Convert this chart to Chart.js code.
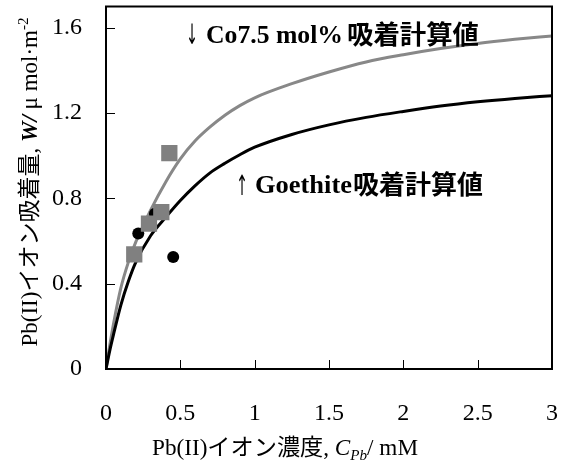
<!DOCTYPE html>
<html><head><meta charset="utf-8">
<script src="https://cdn.jsdelivr.net/npm/chart.js@4"></script>
<style>html,body{margin:0;padding:0;background:#fff;}#wrap{width:565px;height:468px;}</style>
</head><body><div id="wrap"><canvas id="c" width="565" height="468"></canvas></div>
<script>
// ---- data ----
const curveC = [0, 0.025, 0.05, 0.1, 0.15, 0.2, 0.3, 0.4, 0.5, 0.6, 0.7, 0.8, 0.9, 1.0, 1.25, 1.5, 1.75, 2.0, 2.25, 2.5, 2.75, 3.0];
const co75CurveW = [0, 0.11, 0.21, 0.38, 0.50, 0.595, 0.745, 0.875, 0.985, 1.07, 1.135, 1.19, 1.235, 1.272, 1.338, 1.393, 1.44, 1.474, 1.503, 1.527, 1.546, 1.562];
const goethiteCurveW = [0, 0.085, 0.16, 0.30, 0.41, 0.50, 0.625, 0.71, 0.79, 0.86, 0.92, 0.965, 1.005, 1.04, 1.10, 1.145, 1.18, 1.208, 1.233, 1.253, 1.269, 1.282];
const co75PointsC = [0.19, 0.289, 0.372, 0.426];
const co75PointsW = [0.538, 0.682, 0.736, 1.012];
const goethitePointsC = [0.217, 0.329, 0.452];
const goethitePointsW = [0.635, 0.728, 0.525];
const xTickValues = [0, 0.5, 1, 1.5, 2, 2.5, 3];
const yTickValues = [0, 0.4, 0.8, 1.2, 1.6];
const xMax = 3, yMax = 1.7;
const co75Label = ['↓', 'Co7.5 mol%', '吸着計算値'];
const goethiteLabel = ['↑', 'Goethite', '吸着計算値'];
const yTitleParts = ['Pb(II)イオン吸着量, ', 'W/', ' μ mol·m', '-2'];
const xTitleParts = ['Pb(II)イオン濃度, ', 'C', 'Pb', '/ mM'];

const SERIF = "'Liberation Serif','DejaVu Serif','Noto Sans CJK JP',serif";
const toXY = (xs, ys) => xs.map((x, i) => ({x: x, y: ys[i]}));

function drawFit(ctx, text, font, x, y, w) {
  ctx.save();
  ctx.font = font;
  const m = ctx.measureText(text).width;
  ctx.translate(x, y);
  ctx.scale(w / m, 1);
  ctx.fillText(text, 0, 0);
  ctx.restore();
}

const decor = {
  id: 'decor',
  afterDatasetsDraw(chart) {
    const ctx = chart.ctx, a = chart.chartArea;
    const xs = chart.scales.x, ys = chart.scales.y;
    ctx.save();
    ctx.strokeStyle = '#000';
    ctx.lineWidth = 2;
    ctx.strokeRect(a.left, a.top, a.right - a.left, a.bottom - a.top);
    ctx.lineWidth = 1;
    ctx.beginPath();
    yTickValues.forEach(v => {
      if (v === 0) return;
      const p = Math.round(ys.getPixelForValue(v)) + 0.5;
      ctx.moveTo(a.left, p); ctx.lineTo(a.left + 9, p);
    });
    xTickValues.forEach(v => {
      if (v === 0 || v === xMax) return;
      const p = Math.round(xs.getPixelForValue(v)) + 0.5;
      ctx.moveTo(p, a.bottom); ctx.lineTo(p, a.bottom - 9);
    });
    ctx.stroke();

    // annotations
    ctx.fillStyle = '#000';
    ctx.textBaseline = 'alphabetic';
    ctx.textAlign = 'left';
    drawFit(ctx, co75Label[0], "28px 'DejaVu Sans'", 186, 44, 12);
    drawFit(ctx, co75Label[1], 'bold 26px ' + SERIF, 206, 43, 137);
    drawFit(ctx, co75Label[2], "bold 26px 'Noto Sans CJK JP'", 347, 44, 132);
    drawFit(ctx, goethiteLabel[0], "28px 'DejaVu Sans'", 236, 195, 12);
    drawFit(ctx, goethiteLabel[1], 'bold 26px ' + SERIF, 255, 193, 97);
    drawFit(ctx, goethiteLabel[2], "bold 26px 'Noto Sans CJK JP'", 353, 194, 130);

    // y title (rotated)
    ctx.save();
    ctx.translate(29, 182);
    ctx.rotate(-Math.PI / 2);
    const fN = '23px ' + SERIF, fI = 'italic bold 23px ' + SERIF, fS = '15px ' + SERIF;
    ctx.font = fN; const w0 = ctx.measureText(yTitleParts[0]).width;
    ctx.font = fI; const w1 = ctx.measureText(yTitleParts[1]).width;
    ctx.font = fN; const w2 = ctx.measureText(yTitleParts[2]).width;
    ctx.font = fS; const w3 = ctx.measureText(yTitleParts[3]).width;
    const tot = w0 + w1 + w2 + w3;
    ctx.scale(329 / tot, 1);
    let px = -tot / 2;
    ctx.textBaseline = 'alphabetic';
    ctx.font = fN; ctx.fillText(yTitleParts[0], px, 8); px += w0;
    ctx.font = fI; ctx.fillText(yTitleParts[1], px, 8); px += w1;
    ctx.font = fN; ctx.fillText(yTitleParts[2], px, 8); px += w2;
    ctx.font = fS; ctx.fillText(yTitleParts[3], px, -1);
    ctx.restore();

    // x title
    const gN = '23px ' + SERIF, gI = 'italic 23px ' + SERIF, gS = 'italic 15px ' + SERIF;
    ctx.font = gN; const v0 = ctx.measureText(xTitleParts[0]).width;
    ctx.font = gI; const v1 = ctx.measureText(xTitleParts[1]).width;
    ctx.font = gS; const v2 = ctx.measureText(xTitleParts[2]).width;
    ctx.font = gN; const v3 = ctx.measureText(xTitleParts[3]).width;
    const totx = v0 + v1 + v2 + v3;
    ctx.save();
    ctx.translate(152, 455);
    ctx.scale(266 / totx, 1);
    let qx = 0;
    ctx.font = gN; ctx.fillText(xTitleParts[0], qx, 0); qx += v0;
    ctx.font = gI; ctx.fillText(xTitleParts[1], qx, 0); qx += v1;
    ctx.font = gS; ctx.fillText(xTitleParts[2], qx, 5); qx += v2;
    ctx.font = gN; ctx.fillText(xTitleParts[3], qx, 0);
    ctx.restore();
    ctx.restore();
  }
};

new Chart(document.getElementById('c'), {
  type: 'scatter',
  data: {
    datasets: [
      {data: toXY(co75PointsC, co75PointsW), pointStyle: 'rect', pointRadius: 11.5, backgroundColor: '#808080', borderWidth: 0, order: 0},
      {data: toXY(goethitePointsC, goethitePointsW), pointStyle: 'circle', pointRadius: 6, backgroundColor: '#000', borderWidth: 0, order: 1},
      {data: toXY(curveC, goethiteCurveW), showLine: true, borderColor: '#000', borderWidth: 3, pointRadius: 0, cubicInterpolationMode: 'monotone', order: 2},
      {data: toXY(curveC, co75CurveW), showLine: true, borderColor: '#888888', borderWidth: 3, pointRadius: 0, cubicInterpolationMode: 'monotone', order: 3}
    ]
  },
  options: {
    responsive: false,
    animation: false,
    devicePixelRatio: 1,
    layout: {autoPadding: false, padding: {top: 6.5, right: 13, left: 0, bottom: 0}},
    plugins: {legend: {display: false}, tooltip: {enabled: false}},
    scales: {
      x: {
        type: 'linear', min: 0, max: xMax,
        grid: {display: false, drawTicks: false},
        border: {display: false},
        afterBuildTicks: s => { s.ticks = xTickValues.map(v => ({value: v})); },
        ticks: {padding: 30, color: '#000', font: {family: SERIF, size: 24}, maxRotation: 0, callback: v => String(v)},
        afterFit: s => { s.height = 99; s.paddingLeft = 0; s.paddingRight = 0; }
      },
      y: {
        type: 'linear', min: 0, max: yMax,
        grid: {display: false, drawTicks: false},
        border: {display: false},
        afterBuildTicks: s => { s.ticks = yTickValues.map(v => ({value: v})); },
        ticks: {padding: 24, color: '#000', font: {family: SERIF, size: 24}, callback: v => String(v)},
        afterFit: s => { s.width = 106; s.paddingTop = 0; s.paddingBottom = 0; }
      }
    }
  },
  plugins: [decor]
});
</script></body></html>
